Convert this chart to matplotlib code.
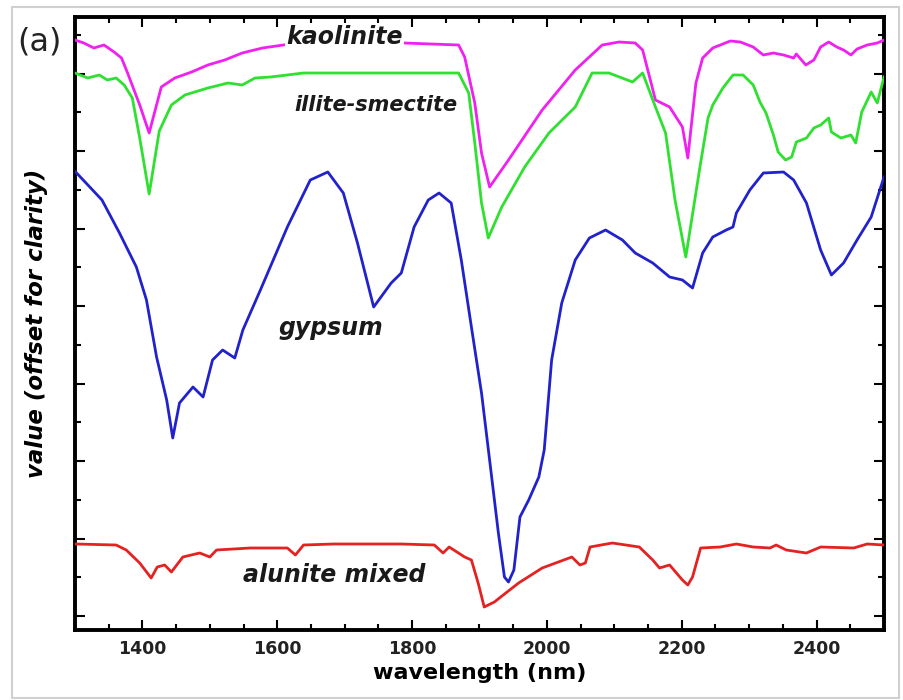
import matplotlib
matplotlib.use("Agg")
import matplotlib.pyplot as plt
from matplotlib.patches import Rectangle
from matplotlib.ticker import FixedLocator, MultipleLocator

# ---------------- data (arbitrary offset units) ----------------
kaol_wl = [1300, 1313, 1328, 1343, 1358, 1369, 1378, 1396, 1410, 1428, 1448, 1473, 1497, 1522,
           1548, 1578, 1609, 1634, 1694, 1788, 1869, 1878, 1893, 1903, 1915, 1943, 1993, 2042,
           2082, 2107, 2131, 2142, 2161, 2182, 2201, 2209, 2221, 2231, 2246, 2272, 2287, 2306,
           2321, 2336, 2351, 2366, 2370, 2384, 2396, 2406, 2418, 2430, 2440, 2451, 2460, 2475,
           2490, 2500]
kaol_val = [5.90, 5.87, 5.82, 5.85, 5.78, 5.72, 5.57, 5.25, 4.97, 5.43, 5.52, 5.58, 5.65, 5.70,
            5.77, 5.82, 5.85, 5.88, 5.89, 5.87, 5.85, 5.73, 5.27, 4.77, 4.43, 4.70, 5.20, 5.60,
            5.85, 5.88, 5.87, 5.80, 5.30, 5.23, 5.03, 4.72, 5.47, 5.72, 5.82, 5.89, 5.88, 5.83,
            5.75, 5.77, 5.75, 5.72, 5.76, 5.65, 5.70, 5.83, 5.88, 5.83, 5.80, 5.75, 5.81, 5.85,
            5.87, 5.90]

illite_wl = [1300, 1319, 1336, 1348, 1361, 1373, 1385, 1396, 1410, 1425, 1443, 1463, 1497, 1527,
             1548, 1567, 1590, 1639, 1694, 1784, 1869, 1884, 1893, 1903, 1913, 1933, 1967, 2003,
             2042, 2067, 2092, 2127, 2142, 2161, 2176, 2190, 2206, 2227, 2239, 2246, 2261, 2276,
             2291, 2306, 2316, 2325, 2336, 2343, 2354, 2363, 2370, 2385, 2396, 2406, 2418, 2422,
             2436, 2451, 2458, 2467, 2481, 2490, 2500]
illite_val = [5.57, 5.52, 5.55, 5.50, 5.52, 5.45, 5.32, 4.92, 4.36, 4.99, 5.25, 5.35, 5.42, 5.47,
              5.45, 5.52, 5.53, 5.57, 5.57, 5.57, 5.57, 5.37, 4.87, 4.27, 3.92, 4.23, 4.63, 4.97,
              5.23, 5.57, 5.57, 5.48, 5.57, 5.23, 4.97, 4.30, 3.73, 4.63, 5.12, 5.25, 5.42, 5.55,
              5.55, 5.45, 5.28, 5.17, 4.95, 4.78, 4.70, 4.73, 4.88, 4.92, 5.02, 5.05, 5.12, 4.98,
              4.92, 4.95, 4.87, 5.18, 5.38, 5.27, 5.53]

gyp_wl = [1301, 1340, 1366, 1391, 1406, 1421, 1436, 1445, 1455, 1475, 1490, 1504, 1519, 1537,
          1549, 1575, 1615, 1649, 1675, 1698, 1719, 1743, 1769, 1784, 1803, 1824, 1840, 1858,
          1873, 1888, 1903, 1915, 1928, 1937, 1943, 1951, 1960, 1973, 1988, 1996, 2007, 2022,
          2042, 2063, 2087, 2112, 2131, 2157, 2182, 2201, 2216, 2231, 2246, 2266, 2276, 2281,
          2301, 2321, 2351, 2366, 2385, 2406, 2422, 2440, 2460, 2481, 2500]
gyp_val = [4.58, 4.30, 3.97, 3.63, 3.30, 2.73, 2.30, 1.92, 2.27, 2.43, 2.33, 2.70, 2.80, 2.72,
           3.00, 3.40, 4.03, 4.50, 4.58, 4.37, 3.87, 3.23, 3.47, 3.57, 4.03, 4.30, 4.37, 4.27,
           3.70, 3.03, 2.37, 1.70, 0.97, 0.53, 0.48, 0.60, 1.13, 1.30, 1.53, 1.80, 2.70, 3.27,
           3.70, 3.92, 4.00, 3.90, 3.77, 3.67, 3.53, 3.50, 3.42, 3.77, 3.93, 4.00, 4.03, 4.17,
           4.40, 4.57, 4.58, 4.50, 4.27, 3.80, 3.55, 3.67, 3.90, 4.13, 4.53]

alun_wl = [1301, 1361, 1376, 1396, 1413, 1422, 1433, 1443, 1460, 1485, 1500, 1510, 1560, 1615,
           1627, 1639, 1684, 1784, 1833, 1846, 1855, 1878, 1888, 1898, 1907, 1922, 1958, 1993,
           2037, 2049, 2057, 2064, 2097, 2137, 2157, 2167, 2182, 2201, 2209, 2216, 2228, 2257,
           2281, 2306, 2331, 2340, 2355, 2385, 2406, 2455, 2475, 2500]
alun_val = [0.86, 0.85, 0.80, 0.67, 0.52, 0.63, 0.65, 0.58, 0.73, 0.77, 0.73, 0.80, 0.82, 0.82,
            0.75, 0.85, 0.86, 0.86, 0.85, 0.77, 0.83, 0.73, 0.70, 0.47, 0.23, 0.28, 0.47, 0.62,
            0.73, 0.65, 0.67, 0.83, 0.87, 0.83, 0.70, 0.62, 0.65, 0.50, 0.45, 0.53, 0.82, 0.83,
            0.86, 0.83, 0.82, 0.85, 0.80, 0.77, 0.83, 0.82, 0.86, 0.85]

x_ticks = [1400, 1600, 1800, 2000, 2200, 2400]

# ---------------- figure ----------------
fig = plt.figure(figsize=(9.04, 7.0), dpi=100)
fig.patch.set_facecolor("white")
fig.patches.append(Rectangle((12 / 904, 2 / 700), 887 / 904, 691 / 700, transform=fig.transFigure,
                             fill=False, edgecolor="#d0d0d0", linewidth=1.5))

ax = fig.add_axes([75 / 904, 1 - 630 / 700, (884 - 75) / 904, (630 - 17) / 700])

lw = 2.0
ax.plot(kaol_wl, kaol_val, color="#f020f0", lw=lw, zorder=3)
ax.plot(illite_wl, illite_val, color="#30e030", lw=lw, zorder=3)
ax.plot(gyp_wl, gyp_val, color="#2222cc", lw=lw, zorder=3)
ax.plot(alun_wl, alun_val, color="#e42222", lw=lw, zorder=3)

ax.set_xlim(1300, 2500)
ax.set_ylim(0, 6.13)

ax.xaxis.set_major_locator(FixedLocator(x_ticks))
ax.xaxis.set_minor_locator(MultipleLocator(50))
major_y = [0.14 + 0.775 * k for k in range(8)]
minor_y = [0.14 + 0.3875 + 0.775 * k for k in range(8)]
ax.yaxis.set_major_locator(FixedLocator(major_y))
ax.yaxis.set_minor_locator(FixedLocator(minor_y))
ax.set_yticklabels([])

ax.tick_params(which="both", direction="in", top=True, right=True, width=1.5)
ax.tick_params(which="major", length=7)
ax.tick_params(which="minor", length=4)
ax.tick_params(axis="x", which="major", labelsize=12.5, pad=7)
for lab in ax.get_xticklabels():
    lab.set_fontweight("bold")
    lab.set_color("#222222")

for s in ax.spines.values():
    s.set_linewidth(2.8)

ax.set_xlabel("wavelength (nm)", fontsize=16, fontweight="bold", labelpad=4)
ax.set_ylabel("value (offset for clarity)", fontsize=16.5, fontweight="bold", style="italic",
              labelpad=16)

box = dict(facecolor="white", edgecolor="none", pad=1.0)
kw = dict(fontweight="bold", style="italic", color="#1a1a1a",
          ha="center", va="center", zorder=5)
ax.text(1700, 5.93, "kaolinite", bbox=box, fontsize=17, **kw)
ax.text(1746, 5.25, "illite-smectite", fontsize=15, **kw)
ax.text(1680, 3.02, "gypsum", fontsize=17, **kw)
ax.text(1684, 0.55, "alunite mixed", fontsize=17, **kw)

fig.text(17 / 904, 1 - 42 / 700, "(a)", fontsize=23, ha="left", va="center", color="#222222")

fig.savefig("out.png", dpi=100)
